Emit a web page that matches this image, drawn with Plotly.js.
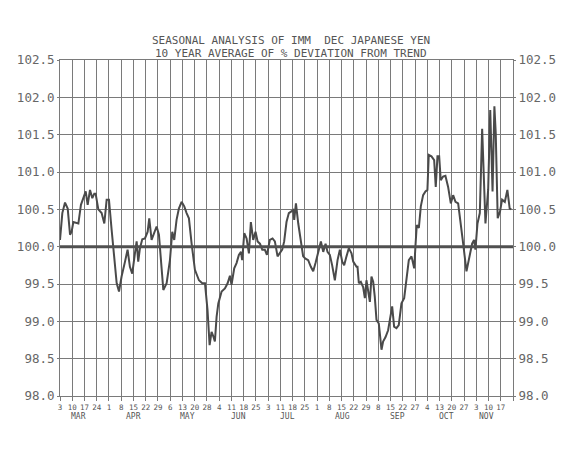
<!DOCTYPE html>
<html>
<head>
<meta charset="utf-8">
<script src="https://cdn.plot.ly/plotly-3.0.1.min.js"></script>
<style>html,body{margin:0;padding:0;background:#fff;}#chart{width:570px;height:450px;}</style>
</head>
<body>
<div id="chart"></div>
<script>
// Week position (0 = Mar 3) and % of trend
const weekPos = [
  0, 0.19, 0.41, 0.63, 0.82, 0.95, 1.09, 1.36, 1.50, 1.71, 1.90, 2.10, 2.26, 2.45, 2.64, 2.80, 2.91,
  3.13, 3.40, 3.62, 3.81, 4.00, 4.22, 4.41, 4.63, 4.82, 5.03, 5.31, 5.52, 5.71, 5.90, 6.12, 6.26,
  6.39, 6.53, 6.72, 6.94, 7.16, 7.29, 7.48, 7.67, 7.89, 8.08, 8.24, 8.44, 8.71, 8.98, 9.17, 9.33,
  9.52, 9.71, 9.93, 10.15, 10.34, 10.53, 10.75, 11.02, 11.35, 11.62, 11.84,
  12.05, 12.22, 12.38, 12.52, 12.65, 12.79, 12.93, 13.20, 13.47, 13.69, 13.88, 14.01, 14.23, 14.42,
  14.61, 14.78, 14.88, 15.05, 15.24, 15.43, 15.59, 15.78, 15.97, 16.14, 16.33, 16.52, 16.73, 16.90,
  17.14, 17.36, 17.55, 17.77, 17.96, 18.15, 18.31, 18.50, 18.69, 18.86, 19.05, 19.13, 19.27, 19.46,
  19.67, 19.86, 20.05, 20.27, 20.49, 20.68, 20.87, 21.09, 21.31, 21.50, 21.69, 21.85, 22.04, 22.23,
  22.45, 22.67, 22.86, 23.05, 23.21, 23.40, 23.59, 23.81, 23.95, 24.22,
  24.30, 24.41, 24.57, 24.76, 24.90, 25.03, 25.17, 25.31, 25.44, 25.58, 25.71, 25.85, 26.04, 26.26,
  26.39, 26.59, 26.80, 27.02, 27.13, 27.29, 27.48, 27.67, 27.89, 28.11, 28.30, 28.49, 28.71, 28.93,
  29.03, 29.14, 29.31, 29.47, 29.66, 29.85, 30.01, 30.12, 30.34, 30.56, 30.69, 30.83, 30.97, 31.10,
  31.29, 31.48, 31.70, 31.92, 32.11, 32.30, 32.52, 32.73, 32.93, 33.20, 33.47, 33.66, 33.82, 33.93,
  34.10, 34.29, 34.48, 34.56, 34.75, 34.97, 35.14, 35.25, 35.33, 35.48, 35.59, 35.75, 35.94, 36.11,
  36.33, 36.54, 36.73, 36.87
];
const pctOfTrend = [
  100.09, 100.45, 100.59, 100.51, 100.16, 100.20, 100.33, 100.32, 100.31, 100.56, 100.65, 100.74, 100.56, 100.76, 100.65, 100.71, 100.71,
  100.50, 100.45, 100.31, 100.63, 100.63, 100.22, 99.87, 99.51, 99.40, 99.60, 99.80, 99.96, 99.73, 99.64, 99.91, 100.07,
  99.80, 99.98, 100.10, 100.11, 100.20, 100.38, 100.09, 100.18, 100.27, 100.16, 99.87, 99.42, 99.51, 99.82, 100.20, 100.09,
  100.36, 100.51, 100.60, 100.54, 100.45, 100.38, 100.04, 99.69, 99.55, 99.51, 99.51,
  99.15, 98.68, 98.86, 98.80, 98.73, 99.06, 99.24, 99.40, 99.44, 99.51, 99.61, 99.49, 99.71, 99.78,
  99.89, 99.93, 99.82, 100.18, 100.11, 99.91, 100.33, 100.09, 100.20, 100.07, 100.04, 99.96, 99.96, 99.89,
  100.09, 100.11, 100.07, 99.87, 99.91, 99.96, 100.07, 100.33, 100.45, 100.47, 100.49, 100.36, 100.58, 100.31,
  100.09, 99.87, 99.84, 99.82, 99.73, 99.67, 99.78, 99.91, 100.07, 99.93, 100.04, 99.93, 99.89, 99.75,
  99.55, 99.82, 99.96, 99.80, 99.75, 99.87, 99.98, 99.91, 99.80, 99.73,
  99.73, 99.51, 99.53, 99.46, 99.31, 99.55, 99.42, 99.26, 99.60, 99.53, 99.33, 99.02, 98.97, 98.62,
  98.73, 98.79, 98.88, 99.11, 99.20, 98.93, 98.91, 98.95, 99.24, 99.31, 99.60, 99.82, 99.87, 99.71,
  100.00, 100.29, 100.25, 100.54, 100.69, 100.74, 100.76, 101.23, 101.21, 101.16, 100.80, 101.21, 101.21, 100.89,
  100.94, 100.95, 100.80, 100.58, 100.69, 100.60, 100.58, 100.27, 100.04, 99.67, 99.87, 100.04, 100.09, 99.96,
  100.31, 100.45, 101.58, 101.21, 100.31, 100.76, 101.83, 101.21, 100.74, 101.88, 101.52, 100.38, 100.47, 100.63,
  100.60, 100.76, 100.51, 100.50
];
// Weekly date ticks and month names
const dayTicks = ['3','10','17','24','1','8','15','22','29','6','13','20','28','4','11','18','25',
  '3','11','18','25','1','8','15','22','29','8','15','22','27','4','13','20','27','3','10','17',''];
const monthNames = ['MAR','APR','MAY','JUN','JUL','AUG','SEP','OCT','NOV'];
const monthCenters = [1.5, 6.0, 10.4, 14.6, 18.6, 23.1, 27.6, 31.6, 34.8];
const yTicks = [98.0, 98.5, 99.0, 99.5, 100.0, 100.5, 101.0, 101.5, 102.0, 102.5];
const titleLines = ['SEASONAL ANALYSIS OF IMM  DEC JAPANESE YEN', '10 YEAR AVERAGE OF % DEVIATION FROM TREND'];

const mono = 'DejaVu Sans Mono, Liberation Mono, monospace';
const ink = '#4a4a4a';
const grid = '#7a7a7a';

const tickPos = dayTicks.map((_, i) => i);
const yTxt = yTicks.map(v => v.toFixed(1));

const traces = [
  {x: weekPos, y: pctOfTrend, type: 'scatter', mode: 'lines',
   line: {color: ink, width: 2}, hoverinfo: 'skip', showlegend: false},
  {x: weekPos, y: pctOfTrend, type: 'scatter', mode: 'lines', yaxis: 'y2',
   line: {color: 'rgba(0,0,0,0)', width: 0}, hoverinfo: 'skip', showlegend: false}
];

const annotations = monthNames.map((m, i) => ({
  text: m, x: monthCenters[i], xref: 'x', y: -0.062, yref: 'paper',
  showarrow: false, xanchor: 'center', yanchor: 'middle',
  font: {family: mono, size: 8, color: '#555'}
}));
annotations.push({text: titleLines[0], x: 0.51, xref: 'paper', y: 1.0595, yref: 'paper',
  showarrow: false, xanchor: 'center', yanchor: 'middle', font: {family: mono, size: 11, color: '#555'}});
annotations.push({text: titleLines[1], x: 0.51, xref: 'paper', y: 1.018, yref: 'paper',
  showarrow: false, xanchor: 'center', yanchor: 'middle', font: {family: mono, size: 11, color: '#555'}});

const yAxisBase = {
  range: [98.0, 102.5], tickvals: yTicks, ticktext: yTxt,
  showgrid: true, gridcolor: grid, gridwidth: 1, zeroline: false,
  ticks: 'outside', ticklen: 2, tickcolor: grid,
  tickfont: {family: mono, size: 12.5, color: '#666'},
  showline: true, linecolor: grid, linewidth: 1, fixedrange: true
};

const layout = {
  width: 570, height: 450,
  margin: {l: 60, r: 57, t: 60, b: 54},
  paper_bgcolor: '#ffffff', plot_bgcolor: '#ffffff',
  showlegend: false,
  xaxis: {
    range: [0, 37], tickvals: tickPos, ticktext: dayTicks, tickangle: 0,
    showgrid: true, gridcolor: grid, gridwidth: 1, zeroline: false,
    ticks: 'outside', ticklen: 4, tickcolor: grid,
    tickfont: {family: mono, size: 7.5, color: '#555'},
    showline: true, mirror: true, linecolor: grid, linewidth: 1, fixedrange: true
  },
  yaxis: Object.assign({}, yAxisBase, {side: 'left'}),
  yaxis2: Object.assign({}, yAxisBase, {side: 'right', overlaying: 'y', showgrid: false}),
  shapes: [{type: 'line', xref: 'paper', x0: 0, x1: 1, yref: 'y', y0: 100, y1: 100,
            line: {color: '#505050', width: 3}}],
  annotations: annotations
};

Plotly.newPlot('chart', traces, layout, {staticPlot: true, displayModeBar: false});
</script>
</body>
</html>
